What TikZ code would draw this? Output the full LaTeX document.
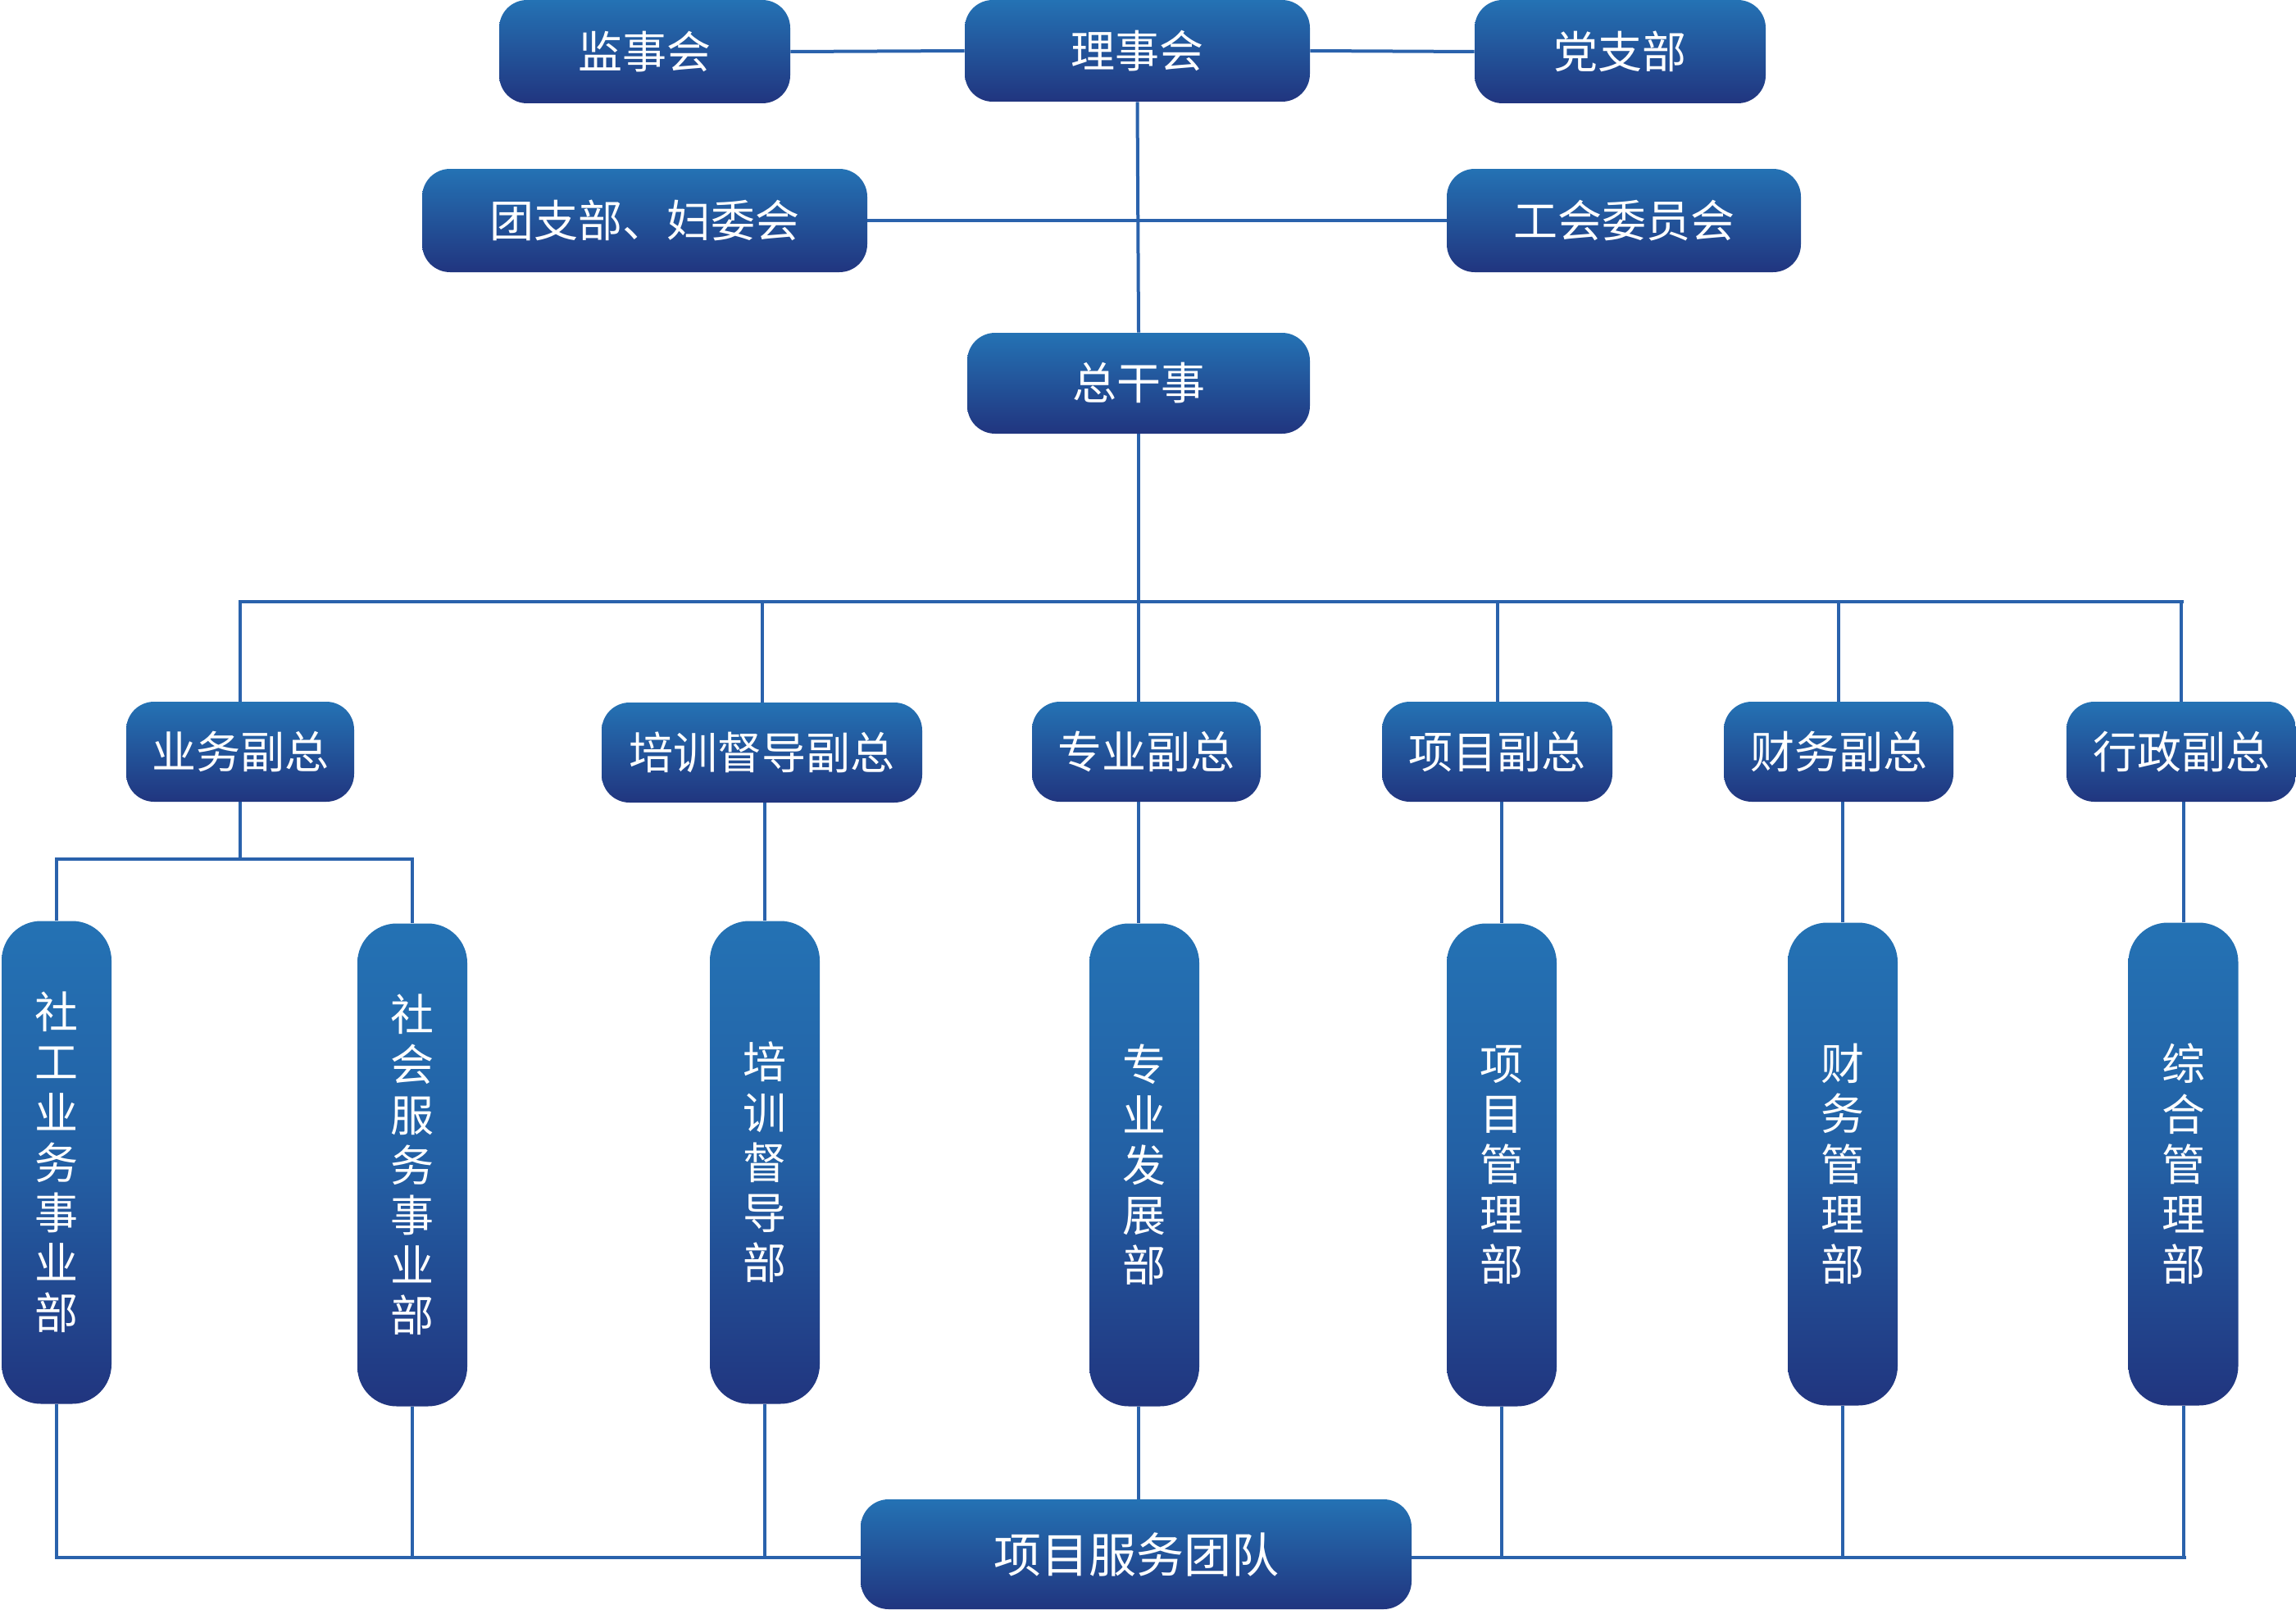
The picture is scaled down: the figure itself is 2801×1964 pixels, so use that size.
\documentclass[tikz,border=0pt]{standalone}
\usepackage{fontspec}
\setmainfont{Noto Sans CJK SC}
\usetikzlibrary{backgrounds}
\definecolor{boxtop}{HTML}{2472B4}
\definecolor{boxbot}{HTML}{21357F}
\definecolor{linec}{HTML}{2A62AC}
\tikzset{
  hbox/.style={rectangle, rounded corners=17pt, top color=boxtop, bottom color=boxbot, draw=none, text=white, inner sep=0pt, font=\fontsize{27pt}{30pt}\selectfont},
  vbox/.style={rectangle, rounded corners=24pt, top color=boxtop, bottom color=boxbot, middle color=boxtop!70!boxbot, draw=none, text=white, inner sep=0pt, align=center, minimum width=67pt, minimum height=294.5pt, font=\fontsize{26.5pt}{30.6pt}\selectfont},
  conn/.style={draw=linec, line width=2pt},
}
\begin{document}
\begin{tikzpicture}[x=0.5pt,y=-0.5pt]
\useasboundingbox (0,0) rectangle (2801,1964);
% top row
\node[hbox, minimum width=177.5pt, minimum height=63pt] (jsh) at (786.5,63) {监事会};
\node[hbox, minimum width=210.5pt, minimum height=62pt] (lsh) at (1387.5,62) {理事会};
\node[hbox, minimum width=177.5pt, minimum height=63pt] (dzb) at (1976.5,63) {党支部};
\node[hbox, minimum width=271.5pt, minimum height=63pt] (tzb) at (786.5,269) {团支部、妇委会};
\node[hbox, minimum width=216pt, minimum height=63pt] (ghw) at (1981,269) {工会委员会};
\node[hbox, minimum width=209pt, minimum height=61.5pt] (zgs) at (1389,467.5) {总干事};
% second row
\node[hbox, minimum width=139pt, minimum height=61pt] (ywfz) at (293,917) {业务副总};
\node[hbox, minimum width=195.5pt, minimum height=61pt] (pxfz) at (929.5,918) {培训督导副总};
\node[hbox, minimum width=139.5pt, minimum height=61pt] (zyfz) at (1398.5,917) {专业副总};
\node[hbox, minimum width=140.5pt, minimum height=61pt] (xmfz) at (1826.5,917) {项目副总};
\node[hbox, minimum width=140pt, minimum height=61pt] (cwfz) at (2243,917) {财务副总};
\node[hbox, minimum width=140pt, minimum height=61pt] (xzfz) at (2661,917) {行政副总};
% third row
\node[vbox] (sg) at (69,1418) {社\\工\\业\\务\\事\\业\\部};
\node[vbox] (sh) at (503,1421) {社\\会\\服\\务\\事\\业\\部};
\node[vbox] (px) at (933,1418) {培\\训\\督\\导\\部};
\node[vbox] (zy) at (1396,1421) {专\\业\\发\\展\\部};
\node[vbox] (xm) at (1832,1421) {项\\目\\管\\理\\部};
\node[vbox] (cw) at (2248,1420) {财\\务\\管\\理\\部};
\node[vbox] (zh) at (2663.5,1420) {综\\合\\管\\理\\部};
% bottom
\node[hbox, minimum width=336pt, minimum height=67pt, font=\fontsize{29pt}{32pt}\selectfont] (xmtd) at (1386,1896) {项目服务团队};
% coordinates
\coordinate (busL) at (291,734);
\coordinate (busR) at (2664,734);
\coordinate (subL) at (69,1048);
\coordinate (botR) at (2667,1900);
\begin{scope}[on background layer]
\draw[conn] (jsh.east) -- (lsh.west);
\draw[conn] (lsh.east) -- (dzb.west);
\draw[conn] (tzb.east) -- (ghw.west);
\draw[conn] (lsh.south) -- (zgs.north);
\draw[conn] (zgs.south) -- (zgs.south |- busL);
\draw[conn] (busL) -- (busR);
\foreach \n in {ywfz,pxfz,xmfz,cwfz,xzfz}{
  \draw[conn] (\n.north) -- (\n.north |- busL);
}
\draw[conn] (zyfz.north -| zgs.south) -- (zgs.south |- busL);
\draw[conn] (ywfz.south) -- (ywfz.south |- subL);
\draw[conn] (sg.north) -- (subL) -- (sh.north |- subL) -- (sh.north);
\draw[conn] (px.north |- pxfz.south) -- (px.north);
\draw[conn] (zyfz.south -| zgs.south) -- (zy.north -| zgs.south);
\draw[conn] (xm.north |- xmfz.south) -- (xm.north);
\draw[conn] (cw.north |- cwfz.south) -- (cw.north);
\draw[conn] (zh.north |- xzfz.south) -- (zh.north);
\draw[conn] (sg.south) -- (sg.south |- botR) -- (botR);
\foreach \n in {sh,px,xm,cw,zh}{
  \draw[conn] (\n.south) -- (\n.south |- botR);
}
\draw[conn] (zy.south -| zgs.south) -- (xmtd.north -| zgs.south);
\end{scope}
\end{tikzpicture}
\end{document}
